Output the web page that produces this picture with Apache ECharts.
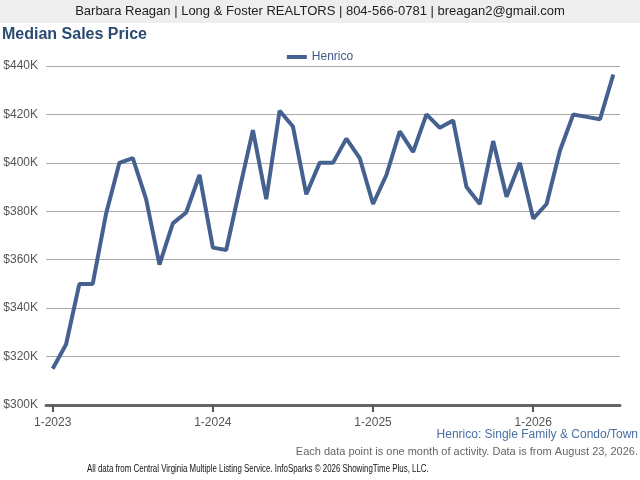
<!DOCTYPE html>
<html>
<head>
<meta charset="utf-8">
<script src="https://cdn.jsdelivr.net/npm/echarts@6/dist/echarts.min.js"></script>
<style>
  html, body { margin: 0; padding: 0; background: #fff; }
  #main { width: 640px; height: 480px; }
</style>
</head>
<body>
<div id="main"></div>
<script>
// monthly median sales price, Henrico, 1-2023 .. 7-2026
var months = [];
for (var y = 2023; y <= 2026; y++) {
    for (var m = 1; m <= 12; m++) {
        if (y === 2026 && m > 7) break;
        months.push(m + '-' + y);
    }
}
var henrico = [
    315000, 325000, 350000, 350000, 379000, 400000, 402000, 385000, 358000, 375000, 379500, 395000,
    365000, 364000, 389000, 413500, 385000, 421500, 415000, 387000, 400000, 400000, 410000, 402000,
    383000, 395000, 413000, 404500, 420000, 414500, 417500, 390000, 383000, 409000, 386000, 400000,
    377000, 383000, 405000, 420000, 419000, 418000, 436500
];
var yTicks = [300000, 320000, 340000, 360000, 380000, 400000, 420000, 440000];

var main = echarts.init(document.getElementById('main'));
var lineColor = '#44618f';

var option = {
    animation: false,
    textStyle: { fontFamily: 'Liberation Sans, Arial, sans-serif' },
    graphic: [
        { type: 'rect', left: 0, top: 0, shape: { width: 640, height: 23 }, style: { fill: '#eeeeee' } },
        { type: 'text', left: 'center', top: 5, style: { text: 'Barbara Reagan | Long & Foster REALTORS | 804-566-0781 | breagan2@gmail.com', fill: '#222', font: '13px Liberation Sans' } },
        { type: 'text', left: 2, top: 27, style: { text: 'Median Sales Price', fill: '#2b4a72', font: 'bold 16px Liberation Sans' } },
        { type: 'text', right: 2, top: 429, style: { text: 'Henrico: Single Family & Condo/Town', fill: '#4a6fa5', font: '12px Liberation Sans' } },
        { type: 'text', right: 2, top: 446, style: { text: 'Each data point is one month of activity. Data is from August 23, 2026.', fill: '#666', font: '11px Liberation Sans' } },
        { type: 'text', x: 87, y: 464, scaleX: 0.79, style: { text: 'All data from Central Virginia Multiple Listing Service. InfoSparks \u00a9 2026 ShowingTime Plus, LLC.', fill: '#111', font: '10px Liberation Sans' } }
    ],
    legend: {
        top: 46,
        left: 'center',
        itemWidth: 20,
        itemHeight: 4,
        icon: 'rect',
        textStyle: { color: '#3d5a85', fontSize: 12 },
        data: ['Henrico']
    },
    grid: { left: 46, right: 20, top: 66, bottom: 75 },
    xAxis: {
        type: 'category',
        boundaryGap: true,
        data: months,
        axisLine: { lineStyle: { color: '#666', width: 3 } },
        axisTick: { show: true, alignWithLabel: true, interval: 11, length: 7, lineStyle: { color: '#555', width: 2 } },
        axisLabel: { interval: 11, color: '#555', fontSize: 12, margin: 12 },
        splitLine: { show: false }
    },
    yAxis: {
        type: 'value',
        min: yTicks[0],
        max: yTicks[yTicks.length - 1],
        interval: 20000,
        axisLine: { show: false },
        axisTick: { show: false },
        axisLabel: {
            color: '#555', fontSize: 12, margin: 8,
            formatter: function (v) { return '$' + (v / 1000) + 'K'; }
        },
        splitLine: { lineStyle: { color: '#aaa', width: 1 } }
    },
    series: [
        {
            name: 'Henrico',
            type: 'line',
            data: henrico,
            symbol: 'none',
            smooth: false,
            lineStyle: { color: lineColor, width: 4 },
            itemStyle: { color: lineColor }
        }
    ]
};
main.setOption(option);
</script>
</body>
</html>
